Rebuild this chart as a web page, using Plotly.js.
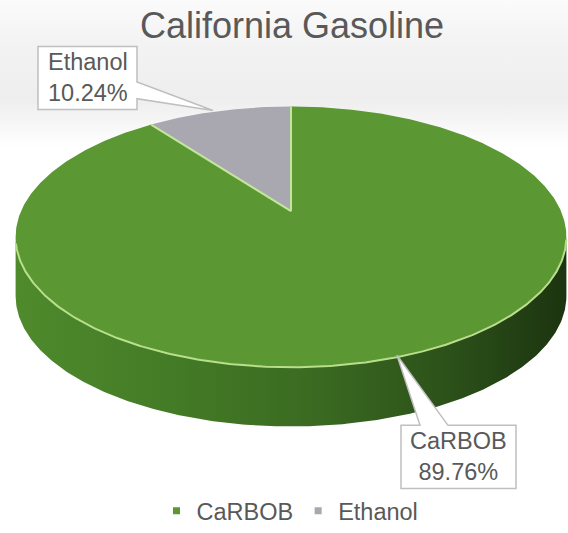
<!DOCTYPE html>
<html>
<head>
<meta charset="utf-8">
<script src="https://cdn.plot.ly/plotly-3.0.1.min.js"></script>
<style>html,body{margin:0;padding:0;background:#fff;}#chart{width:568px;height:533px;}</style>
</head>
<body>
<div id="chart"></div>
<script>
// ---- data ----
const categories = ['CaRBOB', 'Ethanol'];
const shares = [89.76, 10.24];
const chartTitle = 'California Gasoline';

// ---- styles ----
const sliceColors = ['#5b9732', '#a9a7b0'];
const legendColors = ['#5b9732', '#a9a7b0'];
const textColor = '#595959';
const fontFamily = '"Liberation Sans", Arial, sans-serif';

// ---- 3D pie geometry (pixel space) ----
const X0 = 291, Y0 = 214, A = 270, B = 127, P = 0.197, DEPTH = 60;
function proj(theta, dy) {
  const u = Math.sin(theta), v = Math.cos(theta), w = 1 + P * v;
  return [X0 + A * u / w, Y0 - B * v / w + (dy || 0)];
}
function arc(t0, t1, dy) {
  const n = Math.max(2, Math.ceil(Math.abs(t1 - t0) / 0.01));
  const xs = [], ys = [];
  for (let i = 0; i <= n; i++) {
    const p = proj(t0 + (t1 - t0) * i / n, dy);
    xs.push(p[0]); ys.push(p[1]);
  }
  return [xs, ys];
}

const total = shares.reduce((a, b) => a + b, 0);
const traces = [];

// side wall (front visible part)
const ts = Math.acos(-P);
{
  const top = arc(ts, 2 * Math.PI - ts, 0);
  const bot = arc(2 * Math.PI - ts, ts, DEPTH);
  traces.push({
    type: 'scatter', mode: 'lines', x: top[0].concat(bot[0]), y: top[1].concat(bot[1]),
    fill: 'toself', line: {width: 0, color: 'rgba(0,0,0,0)'},
    fillgradient: {type: 'horizontal', colorscale: [[0, '#4f8a2c'], [0.3, '#437a26'], [0.55, '#3a6a21'], [0.8, '#2b4f19'], [1, '#1c3410']]},
    showlegend: false, hoverinfo: 'skip'
  });
}

// top faces
let acc = 0;
const edgeAngles = [];
shares.forEach((v, i) => {
  const t0 = acc / total * 2 * Math.PI;
  acc += v;
  const t1 = acc / total * 2 * Math.PI;
  edgeAngles.push(t0);
  const a = arc(t0, t1, 0);
  traces.push({
    type: 'scatter', mode: 'lines',
    x: [X0].concat(a[0], [X0]), y: [Y0].concat(a[1], [Y0]),
    fill: 'toself', fillcolor: sliceColors[i], line: {width: 0, color: 'rgba(0,0,0,0)'},
    showlegend: false, hoverinfo: 'skip'
  });
});

// highlight edges: radial lines and front rim
edgeAngles.forEach(t => {
  const p = proj(t, 0);
  traces.push({type: 'scatter', mode: 'lines', x: [X0, p[0]], y: [Y0, p[1]],
    line: {color: '#c4e59c', width: 2}, showlegend: false, hoverinfo: 'skip'});
});
{
  const rim = arc(ts + 0.02, 2 * Math.PI - ts - 0.05, 0);
  traces.push({type: 'scatter', mode: 'lines', x: rim[0], y: rim[1],
    line: {color: '#b9df8c', width: 2}, showlegend: false, hoverinfo: 'skip'});
}

// legend entries
categories.forEach((c, i) => {
  traces.push({type: 'scatter', mode: 'markers', x: [null], y: [null], name: c,
    marker: {symbol: 'square', size: 7, color: legendColors[i]}, showlegend: true, hoverinfo: 'skip'});
});

const pct = shares.map(v => (v / total * 100).toFixed(2) + '%');

const bgSvg = "<svg xmlns='http://www.w3.org/2000/svg' width='568' height='533'><defs><linearGradient id='g' x1='0' y1='0' x2='0' y2='1'>" +
  "<stop offset='0' stop-color='#fbfbfb'/><stop offset='0.08' stop-color='#f3f3f3'/><stop offset='0.19' stop-color='#eeeeee'/><stop offset='0.28' stop-color='#ffffff'/></linearGradient></defs>" +
  "<rect width='568' height='533' fill='url(#g)'/></svg>";

const layout = {
  width: 568, height: 533,
  margin: {l: 0, r: 0, t: 0, b: 0},
  paper_bgcolor: '#ffffff', plot_bgcolor: 'rgba(0,0,0,0)',
  font: {family: fontFamily, color: textColor},
  title: {text: chartTitle, font: {size: 36, color: textColor, family: fontFamily},
    x: 292 / 568, xref: 'container', xanchor: 'center', y: 1 - 25 / 533, yref: 'container', yanchor: 'middle'},
  xaxis: {range: [0, 568], visible: false, fixedrange: true},
  yaxis: {range: [533, 0], visible: false, fixedrange: true},
  showlegend: true,
  legend: {orientation: 'h', x: 290 / 568, xanchor: 'center', y: (533 - 518) / 533, yanchor: 'middle',
    bgcolor: 'rgba(0,0,0,0)', font: {size: 23.5, color: textColor, family: fontFamily}, itemwidth: 30},
  images: [{source: 'data:image/svg+xml;charset=utf-8,' + encodeURIComponent(bgSvg), xref: 'paper', yref: 'paper',
    x: 0, y: 1, sizex: 1, sizey: 1, sizing: 'stretch', xanchor: 'left', yanchor: 'top', layer: 'below'}],
  shapes: [
    {type: 'path', xref: 'x', yref: 'y', layer: 'above',
     path: 'M 38,47 L 137,47 L 137,83 L 213,112 L 137,100 L 137,111 L 38,111 Z',
     fillcolor: '#ffffff', line: {color: '#bfbfbf', width: 1.5}},
    {type: 'path', xref: 'x', yref: 'y', layer: 'above',
     path: 'M 401,431 L 420,431 L 397,360 L 448,431 L 516,431 L 516,495 L 401,495 Z',
     fillcolor: '#ffffff', line: {color: '#bfbfbf', width: 1.5}}
  ],
  annotations: [
    {text: categories[1] + '<br>' + pct[1], x: 88, y: 79, xref: 'x', yref: 'y', showarrow: false,
     align: 'center', font: {size: 23.5, color: textColor, family: fontFamily}},
    {text: categories[0] + '<br>' + pct[0], x: 458.5, y: 463, xref: 'x', yref: 'y', showarrow: false,
     align: 'center', font: {size: 23.5, color: textColor, family: fontFamily}}
  ]
};

Plotly.newPlot('chart', traces, layout, {staticPlot: true, displayModeBar: false});
</script>
</body>
</html>
